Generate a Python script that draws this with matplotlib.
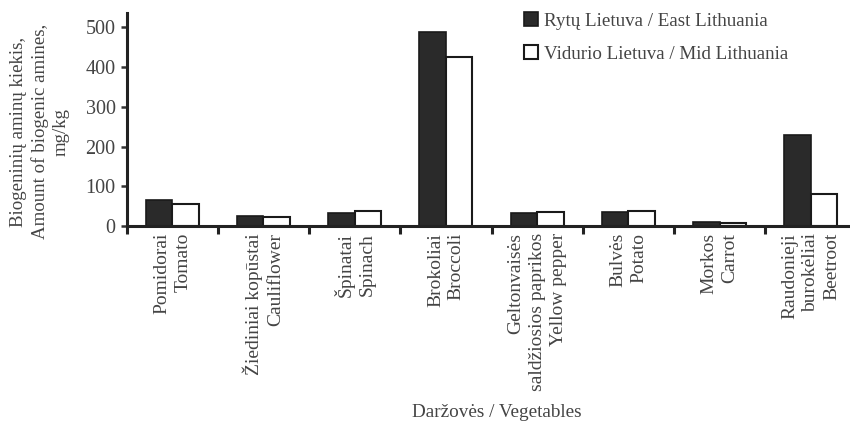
import numpy as np
import matplotlib.pyplot as plt

plt.rcParams['font.family'] = ['Liberation Serif', 'DejaVu Serif']

# Kategorijos (daržovės)
categories = [
    "Pomidorai\nTomato",
    "Žiediniai kopūstai\nCauliflower",
    "Špinatai\nSpinach",
    "Brokoliai\nBroccoli",
    "Geltonvaisės\nsaldžiosios paprikos\nYellow pepper",
    "Bulvės\nPotato",
    "Morkos\nCarrot",
    "Raudonieji\nburokėliai\nBeetroot",
]
east = [65, 25, 33, 488, 33, 35, 10, 230]
mid = [55, 24, 37, 425, 35, 38, 9, 80]
yticks = [0, 100, 200, 300, 400, 500]

fig = plt.figure(figsize=(8.5, 4.25), dpi=100)
ax = fig.add_axes([0.149, 0.468, 0.851, 0.501])

x = np.arange(len(categories)) + 0.5
w = 0.29
ax.bar(x - w / 2, east, w, color='#2a2a2a', edgecolor='#1a1a1a', linewidth=1.2,
       label='Rytų Lietuva / East Lithuania')
ax.bar(x + w / 2, mid, w, color='white', edgecolor='#1a1a1a', linewidth=1.5,
       label='Vidurio Lietuva / Mid Lithuania')

ax.set_xlim(0, 7.93)
ax.set_ylim(0, 535)
ax.set_yticks(yticks)
ax.tick_params(axis='y', labelsize=14.5, length=4, width=1.8, direction='out',
               pad=4, colors='#333333', labelcolor='#444444')

# ribų žymės tarp kategorijų, pavadinimai centruose
ax.set_xticks(np.arange(0, 8))
ax.set_xticklabels([])
ax.set_xticks(x, minor=True)
ax.set_xticklabels(categories, minor=True, rotation=90, fontsize=14,
                   va='top', ha='center', multialignment='right',
                   linespacing=1.3, color='#444444')
ax.tick_params(axis='x', which='major', length=6, width=2.2, colors='#222222')
ax.tick_params(axis='x', which='minor', length=0, pad=5)

for s in ['top', 'right']:
    ax.spines[s].set_visible(False)
for s in ['left', 'bottom']:
    ax.spines[s].set_linewidth(2.2)
    ax.spines[s].set_color('#222222')

fig.text(0.047, 0.69, "Biogeninių aminų kiekis,\nAmount of biogenic amines,\nmg/kg",
         rotation=90, ha='center', va='center', multialignment='center',
         fontsize=13.6, linespacing=1.28, color='#444444')
fig.text(0.585, 0.018, "Daržovės / Vegetables", ha='center', fontsize=13.8,
         color='#444444')

ax.legend(loc='upper left', bbox_to_anchor=(0.525, 1.085), frameon=False,
          fontsize=13.7, handlelength=0.75, handleheight=0.75, handletextpad=0.35,
          labelspacing=0.8, labelcolor='#444444')

fig.savefig('out.png', dpi=100)
